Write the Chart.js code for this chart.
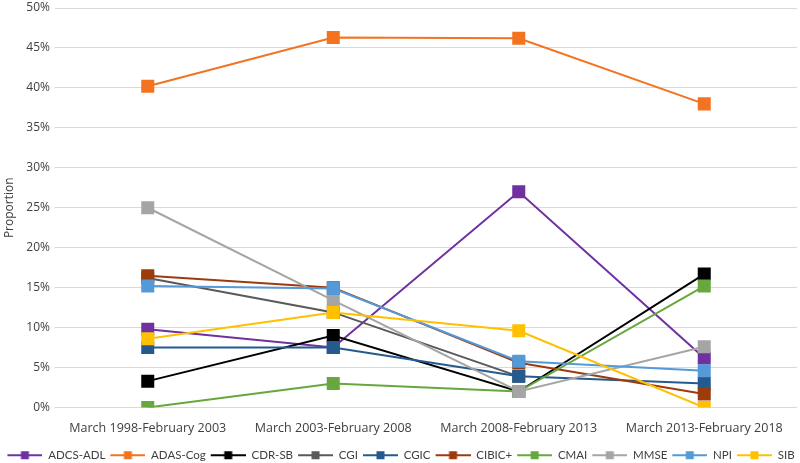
<!DOCTYPE html>
<html>
<head>
<meta charset="utf-8">
<script src="https://cdn.jsdelivr.net/npm/chart.js@4/dist/chart.umd.min.js"></script>
<style>
  html, body { margin: 0; padding: 0; background: #fff; }
  #wrap { width: 800px; height: 463px; }
</style>
</head>
<body>
<div id="wrap"><canvas id="chart" width="800" height="463"></canvas></div>
<script>
(function () {

    "use strict";

    // Periodos (eje X)
    var periods = [
        'March 1998-February 2003',
        'March 2003-February 2008',
        'March 2008-February 2013',
        'March 2013-February 2018'
    ];

    // Proporciones (%) por escala
    var adcsAdl = [9.8, 7.5, 27.0, 6.2];
    var adasCog = [40.2, 46.3, 46.2, 38.0];
    var cdrSb = [3.3, 9.0, 2.0, 16.7];
    var cgi = [16.2, 11.9, 3.9, null];
    var cgic = [7.5, 7.5, 3.9, 3.0];
    var cibic = [16.5, 15.0, 5.6, 1.7];
    var cmai = [0, 3.0, 2.0, 15.2];
    var mmse = [25.0, 13.4, 2.0, 7.6];
    var npi = [15.2, 14.9, 5.8, 4.6];
    var sib = [8.6, 11.9, 9.6, 0];

    var seriesNames = ['ADCS-ADL', 'ADAS-Cog', 'CDR-SB', 'CGI', 'CGIC', 'CIBIC+', 'CMAI', 'MMSE', 'NPI', 'SIB'];
    var seriesValues = [adcsAdl, adasCog, cdrSb, cgi, cgic, cibic, cmai, mmse, npi, sib];
    var seriesColors = ['#7030A0', '#F47321', '#000000', '#595959', '#245A8D', '#9E3B0C', '#66A83E', '#A5A5A5', '#5499D8', '#FFC000'];

    var yTicks = [0, 5, 10, 15, 20, 25, 30, 35, 40, 45, 50];

    var fontName = "'Open Sans', sans-serif";
    var legendFont = "Lato, 'Open Sans', sans-serif";
    var textColor = '#404040';

    /**
     * Icono de leyenda: linea con cuadrado, con margen a la izquierda
     * (hace de separacion entre elementos de la leyenda)
     */
    function legendIcon(color) {
        var c = document.createElement('canvas');
        c.width = 40;
        c.height = 12;
        var ctx = c.getContext('2d');
        ctx.strokeStyle = color;
        ctx.lineWidth = 2;
        ctx.beginPath();
        ctx.moveTo(5, 6);
        ctx.lineTo(40, 6);
        ctx.stroke();
        ctx.fillStyle = color;
        ctx.fillRect(18.5, 2, 8, 8);
        return c;
    }

    var datasets = seriesNames.map(function (name, i) {
        return {
            label: name,
            data: seriesValues[i],
            borderColor: seriesColors[i],
            backgroundColor: seriesColors[i],
            borderWidth: 2,
            pointStyle: 'rect',
            pointRadius: 9.2,
            pointHoverRadius: 9.2,
            pointBorderWidth: 0,
            order: seriesNames.length - i,
            spanGaps: false,
            tension: 0
        };
    });

    new Chart(document.getElementById('chart'), {
        type: 'line',
        data: { labels: periods, datasets: datasets },
        options: {
            responsive: false,
            animation: false,
            events: [],
            layout: { autoPadding: false, padding: { left: 0, right: 3, top: 8, bottom: -8 } },
            scales: {
                x: {
                    offset: true,
                    grid: { display: false, drawTicks: false },
                    border: { display: false },
                    ticks: {
                        color: textColor,
                        font: { family: fontName, size: 12.5, lineHeight: 0.96 },
                        maxRotation: 0,
                        padding: 15
                    }
                },
                y: {
                    min: 0,
                    max: 50,
                    afterBuildTicks: function (axis) {
                        axis.ticks = yTicks.map(function (v) { return { value: v }; });
                    },
                    afterFit: function (axis) { axis.width = 55; },
                    grid: { color: '#D9D9D9', lineWidth: 1, drawTicks: true, tickLength: 5, tickColor: 'rgba(0,0,0,0)' },
                    border: { display: false },
                    ticks: {
                        color: textColor,
                        padding: 0,
                        font: { family: fontName, size: 12 },
                        callback: function (v) { return v + '%'; }
                    },
                    title: {
                        display: true,
                        text: 'Proportion',
                        color: textColor,
                        padding: { top: 2, bottom: 2 },
                        font: { family: fontName, size: 12 }
                    }
                }
            },
            plugins: {
                tooltip: { enabled: false },
                legend: {
                    position: 'bottom',
                    labels: {
                        usePointStyle: true,
                        pointStyleWidth: 40,
                        padding: 0,
                        color: textColor,
                        font: { family: legendFont, size: 11.5 },
                        sort: function (a, b) { return a.datasetIndex - b.datasetIndex; },
                        generateLabels: function (chart) {
                            var items = Chart.defaults.plugins.legend.labels.generateLabels(chart);
                            items.forEach(function (item) {
                                item.pointStyle = legendIcon(seriesColors[item.datasetIndex]);
                            });
                            return items;
                        }
                    }
                }
            }
        }
    });

})();
</script>
</body>
</html>
